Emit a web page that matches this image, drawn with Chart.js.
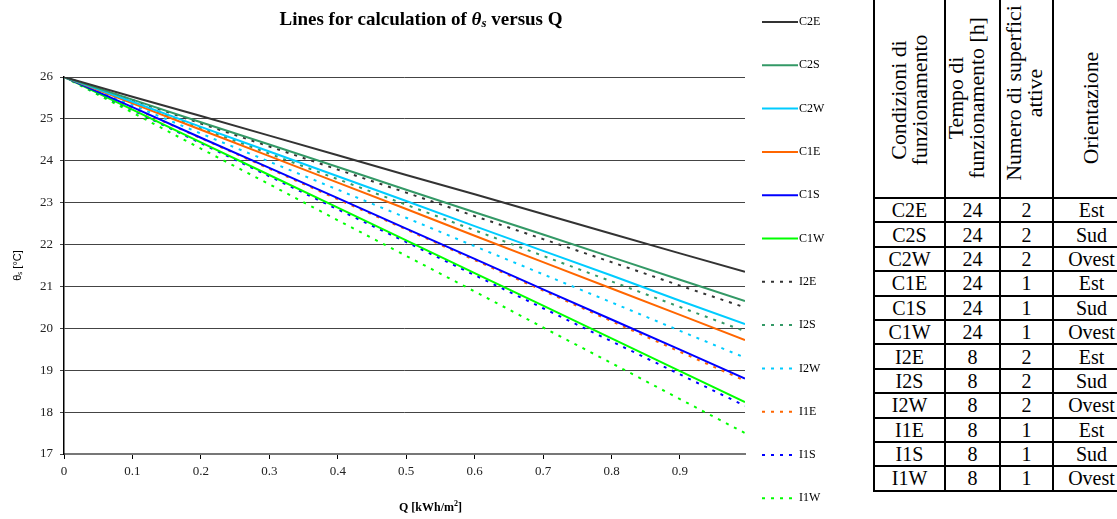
<!DOCTYPE html>
<html lang="it">
<head>
<meta charset="UTF-8" />
<title>Lines for calculation of θs versus Q</title>
<script src="https://cdn.jsdelivr.net/npm/chart.js"></script>
<style>
  body {
    margin: 0;
    background: #fff;
    width: 1117px;
    height: 519px;
    overflow: hidden;
    position: relative;
    font-family: "Liberation Serif", "Times New Roman", serif;
  }
  #chartBox {
    position: absolute;
    left: 0;
    top: 0;
    width: 860px;
    height: 519px;
  }
  table {
    position: absolute;
    left: 873px;
    top: -12px;
    width: 256px;
    table-layout: fixed;
    border-collapse: collapse;
    font-family: "Liberation Serif", serif;
    font-size: 20px;
    color: #000;
  }
  td, th {
    border: 2px solid #000;
    padding: 0;
    text-align: center;
    font-weight: normal;
    line-height: 20px;
  }
  th { height: 207px; }
  td { height: 22.4px; }
  .head {
    position: absolute;
    font-family: "Liberation Serif", serif;
    font-size: 20px;
    line-height: 21px;
    text-align: center;
    white-space: nowrap;
    color: #000;
    transform: translate(-50%, -50%) rotate(-90deg) scaleX(1.09);
  }
</style>
</head>
<body>

<div id="chartBox"><canvas id="thetaChart" width="860" height="519"></canvas></div>

<table id="conditions">
  <colgroup>
    <col style="width:71px"><col style="width:55px"><col style="width:53px"><col style="width:77px">
  </colgroup>
  <thead>
    <tr><th></th><th></th><th></th><th></th></tr>
  </thead>
  <tbody id="tableBody"></tbody>
</table>

<div class="head" style="left:910px; top:100px">Condizioni di<br>funzionamento</div>
<div class="head" style="left:967px; top:98px">Tempo di<br>funzionamento [h]</div>
<div class="head" style="left:1025px; top:93px">Numero di superfici<br>attive</div>
<div class="head" style="left:1091px; top:108px">Orientazione</div>

<script>
  // Q [kWh/m2] sample points
  const qValues = [0, 0.1, 0.2, 0.3, 0.4, 0.5, 0.6, 0.7, 0.8, 0.9, 0.995];

  // theta_s [°C]
  const c2e = [26, 25.53, 25.07, 24.60, 24.13, 23.66, 23.20, 22.73, 22.26, 21.79, 21.35];
  const c2s = [26, 25.46, 24.92, 24.39, 23.85, 23.31, 22.77, 22.24, 21.70, 21.16, 20.65];
  const c2w = [26, 25.41, 24.81, 24.22, 23.63, 23.04, 22.44, 21.85, 21.26, 20.66, 20.10];
  const c1e = [26, 25.37, 24.74, 24.11, 23.48, 22.85, 22.21, 21.58, 20.95, 20.32, 19.72];
  const c1s = [26, 25.28, 24.55, 23.83, 23.11, 22.38, 21.66, 20.93, 20.21, 19.49, 18.80];
  const c1w = [26, 25.22, 24.44, 23.66, 22.88, 22.10, 21.32, 20.54, 19.76, 18.98, 18.24];
  const i2e = [26, 25.45, 24.89, 24.34, 23.79, 23.24, 22.68, 22.13, 21.58, 21.02, 20.50];
  const i2s = [26, 25.39, 24.78, 24.17, 23.56, 22.95, 22.34, 21.73, 21.12, 20.51, 19.93];
  const i2w = [26, 25.33, 24.65, 23.98, 23.31, 22.64, 21.96, 21.29, 20.62, 19.94, 19.30];
  const i1e = [26, 25.27, 24.54, 23.81, 23.08, 22.36, 21.63, 20.90, 20.17, 19.44, 18.75];
  const i1s = [26, 25.21, 24.42, 23.63, 22.84, 22.06, 21.27, 20.48, 19.69, 18.90, 18.15];
  const i1w = [26, 25.15, 24.29, 23.44, 22.58, 21.73, 20.88, 20.02, 19.17, 18.31, 17.50];

  const seriesNames = ['C2E', 'C2S', 'C2W', 'C1E', 'C1S', 'C1W', 'I2E', 'I2S', 'I2W', 'I1E', 'I1S', 'I1W'];
  const seriesData = [c2e, c2s, c2w, c1e, c1s, c1w, i2e, i2s, i2w, i1e, i1s, i1w];
  const colours = ['#333333', '#339966', '#00CCFF', '#FF6600', '#0000FF', '#00FF00'];

  // table columns
  const hours = [24, 24, 24, 24, 24, 24, 8, 8, 8, 8, 8, 8];
  const surfaces = [2, 2, 2, 1, 1, 1, 2, 2, 2, 1, 1, 1];
  const orientation = ['Est', 'Sud', 'Ovest', 'Est', 'Sud', 'Ovest', 'Est', 'Sud', 'Ovest', 'Est', 'Sud', 'Ovest'];

  const tbody = document.getElementById('tableBody');
  seriesNames.forEach((name, i) => {
    const tr = document.createElement('tr');
    [name, hours[i], surfaces[i], orientation[i]].forEach(v => {
      const td = document.createElement('td');
      td.textContent = v;
      tr.appendChild(td);
    });
    tbody.appendChild(tr);
  });

  const datasets = seriesNames.map((name, i) => ({
    label: name,
    data: qValues.map((q, k) => ({ x: q, y: seriesData[i][k] })),
    borderColor: colours[i % 6],
    backgroundColor: colours[i % 6],
    borderWidth: 2,
    borderDash: i < 6 ? [] : [3, 6],
    showLine: true,
    pointRadius: 0,
    fill: false
  }));

  // title, x title and legend drawn by hand to match the original layout
  const decorations = {
    id: 'decorations',
    afterDraw(chart) {
      const ctx = chart.ctx;
      ctx.save();
      ctx.fillStyle = '#000';
      ctx.textBaseline = 'middle';

      // title with italic theta_s
      const parts = [
        { t: 'Lines for calculation of ', f: 'bold 19px "Liberation Serif"', dy: 0 },
        { t: 'θ', f: 'bold italic 19px "Liberation Serif"', dy: 0 },
        { t: 's', f: 'bold italic 13px "Liberation Serif"', dy: 4 },
        { t: ' versus Q', f: 'bold 19px "Liberation Serif"', dy: 0 }
      ];
      let total = 0;
      parts.forEach(p => { ctx.font = p.f; total += ctx.measureText(p.t).width; });
      let x = 421 - total / 2;
      ctx.textAlign = 'left';
      parts.forEach(p => {
        ctx.font = p.f;
        ctx.fillText(p.t, x, 20 + p.dy);
        x += ctx.measureText(p.t).width;
      });

      // x axis title
      ctx.font = 'bold 12px "Liberation Serif"';
      const qa = 'Q [kWh/m';
      const qw = ctx.measureText(qa).width;
      const qx = 399;
      ctx.fillText(qa, qx, 508);
      ctx.font = 'bold 8px "Liberation Serif"';
      ctx.fillText('2', qx + qw, 504);
      const w2 = ctx.measureText('2').width;
      ctx.font = 'bold 12px "Liberation Serif"';
      ctx.fillText(']', qx + qw + w2, 508);

      // legend
      chart.data.datasets.forEach((ds, i) => {
        const y = 22 + i * 43.3;
        ctx.strokeStyle = ds.borderColor;
        ctx.lineWidth = 2;
        ctx.setLineDash(ds.borderDash);
        ctx.beginPath();
        ctx.moveTo(762, y);
        ctx.lineTo(798, y);
        ctx.stroke();
        ctx.setLineDash([]);
        ctx.font = '12px "Liberation Serif"';
        ctx.fillStyle = '#000';
        ctx.fillText(ds.label, 799, y);
      });
      ctx.restore();
    }
  };

  new Chart(document.getElementById('thetaChart'), {
    type: 'scatter',
    data: { datasets: datasets },
    plugins: [decorations],
    options: {
      responsive: false,
      animation: false,
      layout: { padding: { top: 77, right: 115, bottom: 0, left: 0 } },
      plugins: {
        legend: { display: false },
        title: { display: false },
        tooltip: { enabled: false }
      },
      scales: {
        x: {
          type: 'linear',
          min: 0,
          max: 0.995,
          afterFit(scale) { scale.height = 65; },
          ticks: {
            stepSize: 0.1,
            includeBounds: false,
            padding: 5,
            color: '#222',
            font: { family: 'Liberation Serif', size: 13 },
            callback: v => String(Math.round(v * 10) / 10)
          },
          grid: { drawOnChartArea: false, drawTicks: true, tickLength: 5, color: '#000' },
          border: { display: true, color: '#777', width: 2 }
        },
        y: {
          min: 17,
          max: 26,
          afterFit(scale) { scale.width = 64; },
          ticks: {
            stepSize: 1,
            padding: 7,
            color: '#222',
            font: { family: 'Liberation Serif', size: 13 }
          },
          grid: { color: '#444', lineWidth: 1, tickLength: 4 },
          border: { display: true, color: '#000', width: 1.5 },
          title: {
            display: true,
            text: 'θₛ [°C]',
            color: '#000',
            font: { family: 'Liberation Sans', size: 11 },
            padding: { top: 11, bottom: 0 }
          }
        }
      }
    }
  });
</script>

</body>
</html>
